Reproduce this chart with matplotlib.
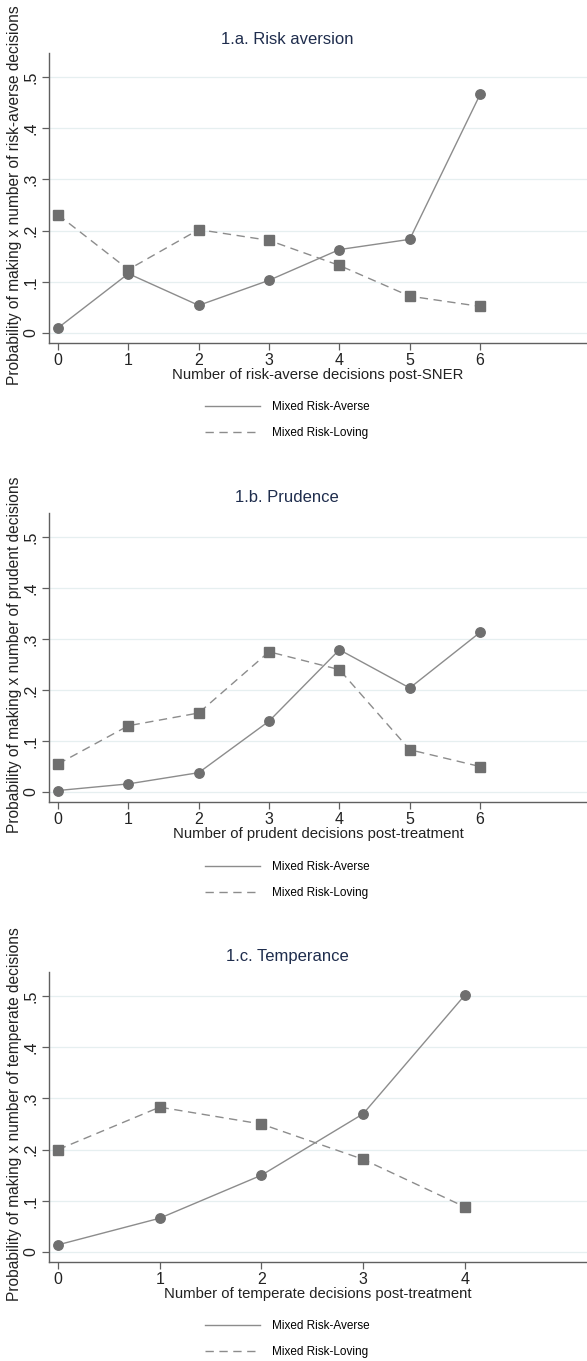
import numpy as np
import matplotlib
matplotlib.use("Agg")
import matplotlib.pyplot as plt
from matplotlib.lines import Line2D

plt.rcParams['font.family'] = ['Liberation Sans', 'DejaVu Sans']

# Data
x_six = [0, 1, 2, 3, 4, 5, 6]
x_four = [0, 1, 2, 3, 4]

risk_averse_a = [0.010, 0.116, 0.054, 0.103, 0.163, 0.183, 0.466]
risk_loving_a = [0.231, 0.124, 0.202, 0.181, 0.132, 0.072, 0.052]

risk_averse_b = [0.003, 0.016, 0.038, 0.139, 0.279, 0.204, 0.313]
risk_loving_b = [0.055, 0.130, 0.155, 0.275, 0.240, 0.083, 0.050]

risk_averse_c = [0.014, 0.066, 0.150, 0.270, 0.502]
risk_loving_c = [0.200, 0.283, 0.250, 0.181, 0.088]

titles = ["1.a. Risk aversion", "1.b. Prudence", "1.c. Temperance"]
xlabels = ["Number of risk-averse decisions post-SNER",
           "Number of prudent decisions post-treatment",
           "Number of temperate decisions post-treatment"]
ylabels = ["Probability of making x number of risk-averse decisions",
           "Probability of making x number of prudent decisions",
           "Probability of making x number of temperate decisions"]
yticks = [0, 0.1, 0.2, 0.3, 0.4, 0.5]
ytick_labels = ["0", ".1", ".2", ".3", ".4", ".5"]
legend_labels = ["Mixed Risk-Averse", "Mixed Risk-Loving"]

W, H = 587, 1361
fig = plt.figure(figsize=(W / 100, H / 100), dpi=100)

line_col = "#8c8c8c"
mark_col = "#6f6f6f"
title_col = "#1f2d4d"
grid_col = "#e6eff0"
spine_col = "#606060"

# pixel layout: (axes top, axes bottom, title y, legend y)
panels = [
    (x_six, risk_averse_a, risk_loving_a, 53, 343, 39, 420, 7.52),
    (x_six, risk_averse_b, risk_loving_b, 513, 802, 498, 880, 7.52),
    (x_four, risk_averse_c, risk_loving_c, 972, 1262, 957, 1339, 5.2),
]

for i, (xs, ra, rl, top, bot, ty, ly, xmax) in enumerate(panels):
    left = 49
    ax = fig.add_axes([left / W, 1 - bot / H, (W - left) / W, (bot - top) / H])
    ax.plot(xs, ra, color=line_col, lw=1.0, ls='-', marker='o', ms=6.8,
            mfc=mark_col, mec=mark_col, zorder=3)
    ax.plot(xs, rl, color=line_col, lw=1.0, ls=(0, (6, 4)), marker='s', ms=7.6,
            mfc=mark_col, mec=mark_col, zorder=3)
    ax.set_xlim(-0.128 if xmax > 6 else -0.088, xmax)
    ax.set_ylim(-0.0195, 0.547)
    ax.set_xticks(xs)
    ax.set_xticklabels([str(v) for v in xs], fontsize=11.5)
    ax.set_yticks(yticks)
    ax.set_yticklabels(ytick_labels, fontsize=11.5, rotation=90, va='center')
    ax.grid(axis='y', color=grid_col, lw=0.9)
    ax.set_axisbelow(True)
    for s in ['top', 'right']:
        ax.spines[s].set_visible(False)
    for s in ['left', 'bottom']:
        ax.spines[s].set_color(spine_col)
        ax.spines[s].set_linewidth(1.0)
    ax.tick_params(axis='both', colors=spine_col, length=5, width=0.9,
                   labelcolor='#222222', pad=2.5)
    ax.set_xlabel(xlabels[i], fontsize=10.7, labelpad=0, color='#222222')

    fig.text(15 / W, 1 - ((top + bot) / 2 - 3) / H, ylabels[i], rotation=90,
             fontsize=11.2, ha='center', va='center', color='#222222')
    fig.text(287 / W, 1 - ty / H, titles[i], fontsize=12, ha='center',
             va='center', color=title_col)

    handles = [Line2D([], [], color=line_col, lw=1.0, ls='-'),
               Line2D([], [], color=line_col, lw=1.0, ls=(0, (6, 4)))]
    fig.legend(handles, legend_labels, loc='center',
               bbox_to_anchor=(287 / W, 1 - ly / H), frameon=False,
               fontsize=8.5, handlelength=4.7, handletextpad=1.0,
               labelspacing=1.2)

fig.savefig("out.png", dpi=100, facecolor='white')
